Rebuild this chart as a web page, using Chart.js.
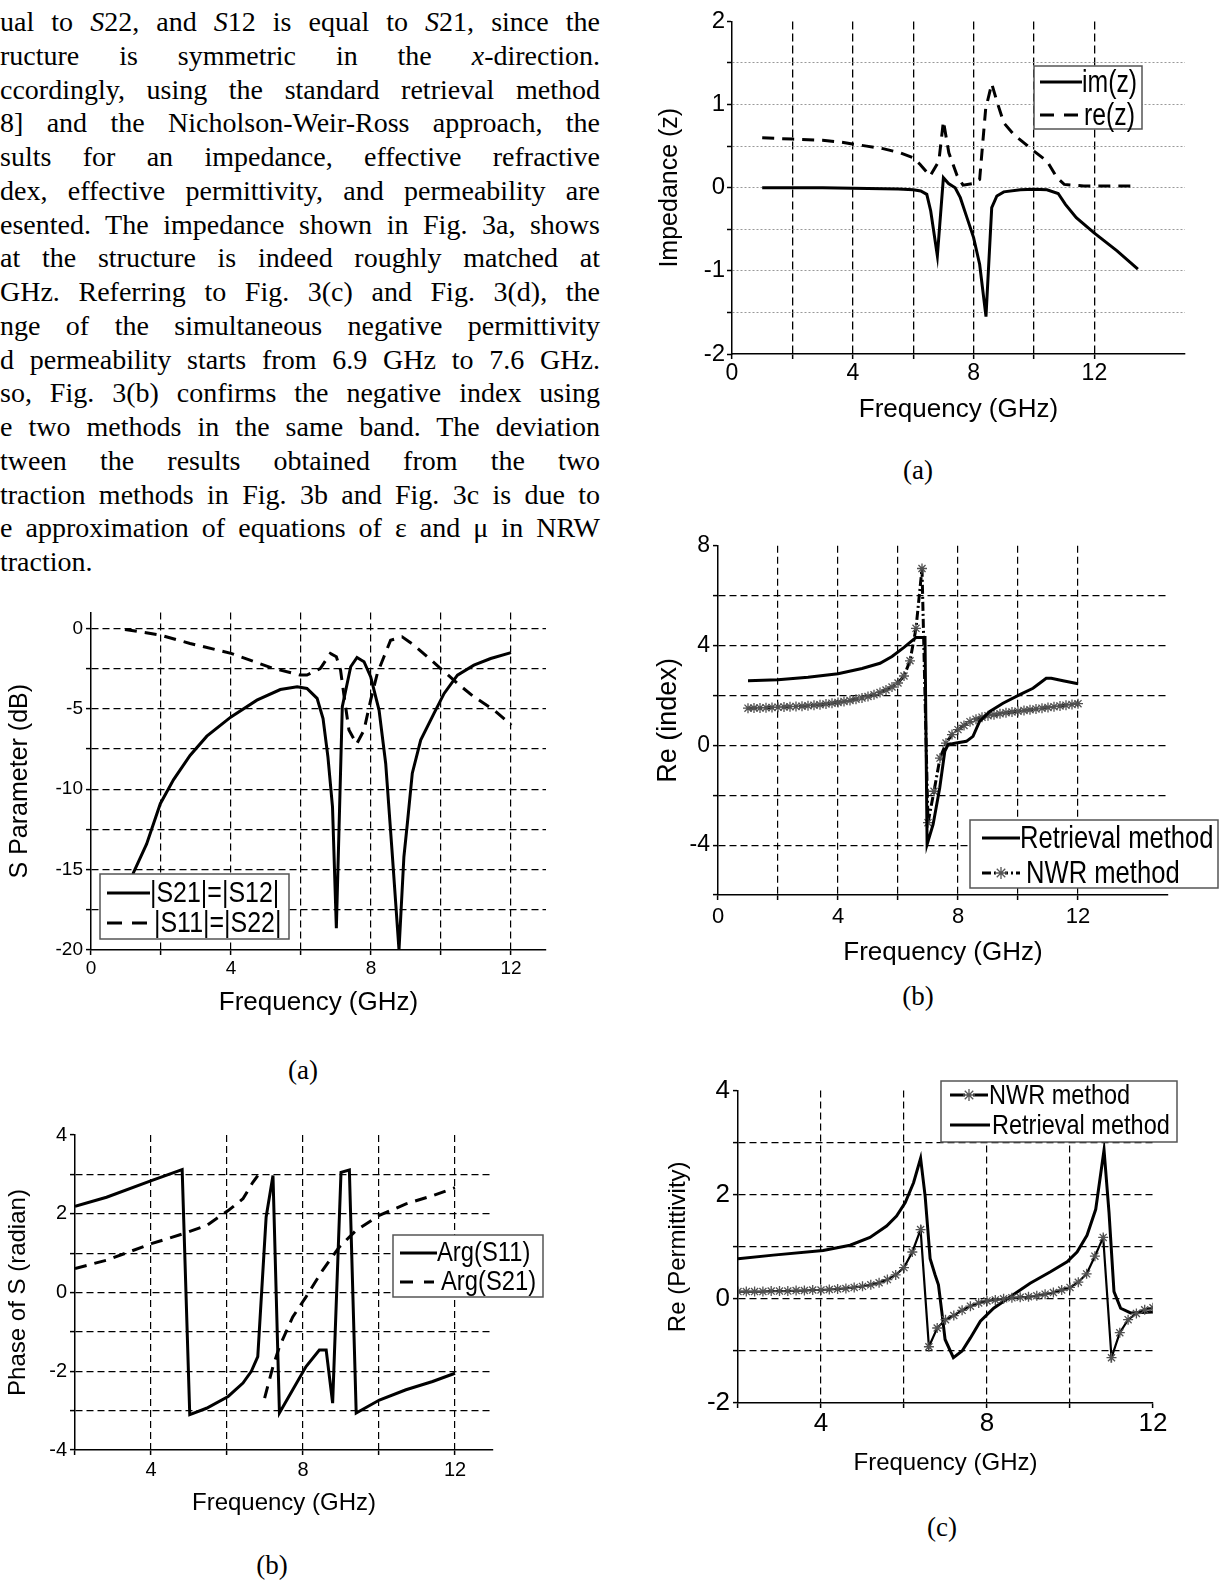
<!DOCTYPE html>
<html>
<head>
<meta charset="utf-8">
<title>Fig. 3 S-parameters and retrieved parameters</title>
<script src="https://cdn.jsdelivr.net/npm/chart.js@4.4.1/dist/chart.umd.min.js"></script>
<style>
  html, body { margin: 0; padding: 0; background: #fff; }
  body { position: relative; width: 1225px; height: 1585px; overflow: hidden; }
  canvas { position: absolute; }
  .line { position: absolute; left: 0; white-space: pre; font: 28px "Liberation Serif", "Times New Roman", serif; line-height: 34px; color: #000; }
  .cap { position: absolute; font: 27px "Liberation Serif", "Times New Roman", serif; color: #000; transform: translate(-50%, -50%); }
</style>
</head>
<body>
<script>
// ---- data ----

// S parameter (dB)
const sFreq21 = [1.0, 1.21, 1.59, 1.98, 2.36, 2.83, 3.31, 4.0, 4.74, 5.41, 5.89, 6.17, 6.46, 6.63, 6.77, 6.9, 7.01, 7.18, 7.42, 7.6, 7.8, 7.99, 8.23, 8.42, 8.6, 8.8, 8.94, 9.04, 9.18, 9.42, 9.8, 10.09, 10.47, 10.94, 11.42, 12.0];
const s21 = [-18.0, -15.2, -13.4, -10.9, -9.4, -7.9, -6.7, -5.5, -4.46, -3.8, -3.63, -3.73, -4.35, -5.6, -8.0, -11.1, -18.65, -4.87, -2.38, -1.8, -2.07, -3.0, -5.08, -8.4, -13.8, -20.0, -14.2, -12.1, -9.0, -6.94, -5.28, -4.04, -2.9, -2.28, -1.87, -1.5];
const sFreq11 = [0.97, 1.98, 2.83, 4.0, 5.22, 5.98, 6.17, 6.55, 6.84, 7.01, 7.13, 7.22, 7.37, 7.59, 7.8, 7.99, 8.18, 8.37, 8.56, 8.89, 9.23, 9.99, 10.47, 10.94, 11.52, 12.01];
const s11 = [-0.06, -0.41, -0.93, -1.55, -2.49, -2.9, -2.9, -2.49, -1.55, -1.76, -2.59, -4.04, -6.32, -7.19, -6.32, -4.46, -2.8, -1.76, -0.73, -0.52, -1.04, -2.49, -3.42, -4.25, -5.08, -6.01];

// phase (radian)
const phFreq11 = [2.0, 2.83, 4.01, 4.82, 5.02, 5.46, 6.03, 6.42, 6.64, 6.81, 7.03, 7.21, 7.38, 7.73, 8.08, 8.43, 8.61, 8.78, 9.0, 9.22, 9.4, 10.01, 10.71, 11.41, 12.0];
const argS11 = [2.19, 2.42, 2.84, 3.12, -3.1, -2.94, -2.64, -2.3, -2.0, -1.63, 1.92, 2.97, -3.06, -2.47, -1.88, -1.46, -1.46, -2.81, 3.05, 3.11, -3.06, -2.73, -2.47, -2.26, -2.05];
const phFreq21 = [2.0, 2.83, 4.01, 4.84, 5.46, 6.03, 6.42, 6.68, 6.81, 6.9, 6.99, 7.21, 7.38, 7.73, 8.08, 8.52, 8.96, 9.4, 10.01, 10.71, 11.41, 12.0];
const argS21 = [0.61, 0.82, 1.24, 1.49, 1.7, 2.08, 2.38, 2.8, 2.97, null, -2.68, -1.88, -1.38, -0.62, -0.11, 0.57, 1.16, 1.58, 1.96, 2.25, 2.46, 2.66];

// impedance
const zFreqIm = [1.0, 2.0, 3.0, 3.5, 4.5, 5.5, 6.0, 6.25, 6.45, 6.58, 6.8, 7.0, 7.17, 7.39, 7.56, 7.78, 8.0, 8.2, 8.41, 8.6, 8.77, 9.0, 9.55, 10.0, 10.43, 10.8, 11.04, 11.4, 11.98, 12.75, 13.44];
const imZ = [0, 0, 0, -0.005, -0.01, -0.015, -0.025, -0.04, -0.08, -0.28, -0.82, 0.12, 0.05, 0.0, -0.12, -0.36, -0.6, -0.92, -1.55, -0.24, -0.1, -0.05, -0.025, -0.02, -0.025, -0.07, -0.2, -0.36, -0.54, -0.76, -0.98];
const zFreqRe = [1.0, 2.0, 3.0, 3.57, 4.46, 5.0, 5.56, 6.0, 6.23, 6.56, 6.85, 7.0, 7.18, 7.45, 7.65, 8.0, 8.2, 8.4, 8.6, 8.77, 9.0, 9.33, 10.0, 10.43, 10.76, 11.0, 11.65, 13.27];
const reZ = [0.6, 0.585, 0.57, 0.55, 0.5, 0.47, 0.42, 0.36, 0.28, 0.14, 0.32, 0.8, 0.42, 0.15, 0.03, 0.05, 0.1, 0.95, 1.25, 1.04, 0.78, 0.64, 0.44, 0.32, 0.12, 0.04, 0.02, 0.02];

// refractive index
const nFreqRet = [1.0, 2.0, 3.0, 4.0, 4.8, 5.4, 5.8, 6.2, 6.5, 6.6, 6.9, 6.97, 7.17, 7.39, 7.56, 7.67, 7.94, 8.28, 8.5, 8.72, 9.06, 9.5, 10.06, 10.5, 10.72, 10.94, 11.11, 11.5, 12.0];
const nRet = [2.59, 2.63, 2.73, 2.87, 3.08, 3.29, 3.56, 3.93, 4.23, 4.32, 4.32, -3.97, -3.17, -1.71, -0.24, 0.03, 0.09, 0.16, 0.36, 0.96, 1.36, 1.69, 2.03, 2.29, 2.49, 2.69, 2.69, 2.59, 2.47];
const nFreqNwr = [1.0, 1.2, 1.4, 1.6, 1.8, 2.0, 2.2, 2.4, 2.6, 2.8, 3.0, 3.2, 3.4, 3.6, 3.8, 4.0, 4.2, 4.4, 4.6, 4.8, 5.0, 5.2, 5.4, 5.6, 5.8, 6.0, 6.2, 6.4, 6.6, 6.8, 7.0, 7.2, 7.4, 7.6, 7.8, 8.0, 8.2, 8.4, 8.6, 8.8, 9.0, 9.2, 9.4, 9.6, 9.8, 10.0, 10.2, 10.4, 10.6, 10.8, 11.0, 11.2, 11.4, 11.6, 11.8, 12.0];
const nNwr = [1.49, 1.5, 1.5, 1.51, 1.52, 1.53, 1.54, 1.55, 1.56, 1.57, 1.59, 1.61, 1.63, 1.66, 1.69, 1.72, 1.76, 1.8, 1.85, 1.9, 1.96, 2.03, 2.12, 2.22, 2.34, 2.5, 2.78, 3.39, 4.69, 7.09, -3.1, -1.84, -0.51, 0.09, 0.43, 0.63, 0.8, 0.95, 1.05, 1.13, 1.19, 1.23, 1.27, 1.31, 1.34, 1.37, 1.4, 1.43, 1.46, 1.49, 1.52, 1.55, 1.58, 1.61, 1.64, 1.67];

// permittivity
const eFreqRet = [2.0, 2.85, 4.05, 4.7, 5.18, 5.58, 5.82, 6.03, 6.23, 6.4, 6.51, 6.63, 6.75, 6.83, 6.91, 6.99, 7.19, 7.4, 7.6, 7.84, 8.16, 8.56, 9.04, 9.53, 9.93, 10.17, 10.41, 10.62, 10.82, 10.94, 11.06, 11.22, 11.46, 12.0];
const eRet = [0.77, 0.84, 0.93, 1.03, 1.18, 1.4, 1.59, 1.85, 2.23, 2.7, 1.97, 0.77, 0.46, 0.27, -0.24, -0.78, -1.13, -1.0, -0.75, -0.43, -0.18, 0.04, 0.3, 0.52, 0.71, 0.9, 1.22, 1.72, 2.86, 1.66, 0.14, -0.18, -0.27, -0.25];
const eFreqNwr = [2.0, 2.2, 2.4, 2.6, 2.8, 3.0, 3.2, 3.4, 3.6, 3.8, 4.0, 4.2, 4.4, 4.6, 4.8, 5.0, 5.2, 5.4, 5.6, 5.8, 6.0, 6.2, 6.4, 6.6, 6.8, 7.0, 7.2, 7.4, 7.6, 7.8, 8.0, 8.2, 8.4, 8.6, 8.8, 9.0, 9.2, 9.4, 9.6, 9.8, 10.0, 10.2, 10.4, 10.6, 10.8, 11.0, 11.2, 11.4, 11.6, 11.8, 12.0];
const eNwr = [0.14, 0.14, 0.14, 0.14, 0.15, 0.15, 0.15, 0.16, 0.16, 0.17, 0.17, 0.18, 0.19, 0.2, 0.22, 0.24, 0.27, 0.31, 0.37, 0.46, 0.6, 0.9, 1.33, -0.92, -0.56, -0.4, -0.32, -0.22, -0.14, -0.08, -0.04, -0.02, 0.0, 0.02, 0.03, 0.04, 0.06, 0.09, 0.12, 0.17, 0.22, 0.32, 0.48, 0.82, 1.18, -1.13, -0.65, -0.4, -0.28, -0.21, -0.17];

// ---- text column ----
const textLines = [
  'ual to <i>S</i>22, and <i>S</i>12 is equal to <i>S</i>21, since the',
  'ructure is symmetric in the <i>x</i>-direction.',
  'ccordingly, using the standard retrieval method',
  '8] and the Nicholson-Weir-Ross approach, the',
  'sults for an impedance, effective refractive',
  'dex, effective permittivity, and permeability are',
  'esented. The impedance shown in Fig. 3a, shows',
  'at the structure is indeed roughly matched at',
  'GHz. Referring to Fig. 3(c) and Fig. 3(d), the',
  'nge of the simultaneous negative permittivity',
  'd permeability starts from 6.9 GHz to 7.6 GHz.',
  'so, Fig. 3(b) confirms the negative index using',
  'e two methods in the same band. The deviation',
  'tween the results obtained from the two',
  'traction methods in Fig. 3b and Fig. 3c is due to',
  'e approximation of equations of ε and μ in NRW',
  'traction.'
];
const colWidth = 600;

textLines.forEach((html, i) => {
  const d = document.createElement('div');
  d.className = 'line';
  d.innerHTML = html;
  d.style.top = (22 + 33.75 * i - 17) + 'px';
  document.body.appendChild(d);
  if (i < textLines.length - 1) {
    const spaces = (d.textContent.match(/ /g) || []).length;
    const w = d.getBoundingClientRect().width;
    d.style.wordSpacing = ((colWidth - w) / spaces) + 'px';
  }
});

// captions
[['(a)', 918, 470], ['(b)', 918, 996], ['(c)', 942, 1527], ['(a)', 303, 1070], ['(b)', 272, 1565]].forEach(c => {
  const d = document.createElement('div');
  d.className = 'cap';
  d.textContent = c[0];
  d.style.left = c[1] + 'px';
  d.style.top = c[2] + 'px';
  document.body.appendChild(d);
});

// ---- charts ----
Chart.defaults.font.family = '"Liberation Sans", Arial, Helvetica, sans-serif';
Chart.defaults.color = '#000';

function pts(xs, ys) { return xs.map((x, i) => ({x: x, y: ys[i]})); }

function axis(o) {
  const near = (v, s) => Math.abs(v / s - Math.round(v / s)) < 1e-6;
  return {
    type: 'linear', min: o.min, max: o.max,
    afterBuildTicks: s => { s.ticks = s.ticks.filter(t => near(t.value, o.step)); },
    afterFit: s => {
      if (o.width !== undefined) s.width = o.width;
      if (o.height !== undefined) s.height = o.height;
    },
    ticks: {
      stepSize: o.step, autoSkip: false, maxRotation: 0, minRotation: 0, padding: o.pad,
      font: {size: o.tick}, color: '#000',
      callback: v => near(v, o.label) ? String(Math.round(v * 1000) / 1000) : ''
    },
    grid: {
      color: c => (c.tick && (c.tick.value === o.min || c.tick.value === o.max)) ? 'rgba(0,0,0,0)' : o.gridColor,
      lineWidth: o.gridWidth, drawTicks: true, tickLength: 5, tickWidth: 1.5, tickColor: '#000',
      borderDash: o.dash
    },
    border: {display: true, color: '#000', width: 1.5, dash: o.dash},
    title: {display: true, text: o.title, color: '#000', font: {size: o.titleSize}, padding: o.titlePad}
  };
}

// boxed legend drawn inside the plot, like the original figure
function boxLegend(lg, box) {
  return {
    id: 'boxLegend',
    afterDraw(chart) {
      const ctx = chart.ctx;
      const ox = box.x, oy = box.y;
      const b = lg.box;
      ctx.save();
      ctx.fillStyle = '#fff';
      ctx.fillRect(b[0] - ox, b[1] - oy, b[2] - b[0], b[3] - b[1]);
      ctx.strokeStyle = '#555';
      ctx.lineWidth = 1.5;
      ctx.strokeRect(b[0] - ox, b[1] - oy, b[2] - b[0], b[3] - b[1]);
      lg.rows.forEach(r => {
        const y = r.y - oy;
        ctx.strokeStyle = '#000';
        ctx.lineWidth = 3;
        ctx.setLineDash(r.dash || []);
        ctx.beginPath();
        ctx.moveTo(r.s[0] - ox, y);
        ctx.lineTo(r.s[1] - ox, y);
        ctx.stroke();
        ctx.setLineDash([]);
        if (r.star) {
          const cx = (r.s[0] + r.s[1]) / 2 - ox, rad = 6;
          ctx.fillStyle = '#fff';
          ctx.fillRect(cx - 4, y - 4, 8, 8);
          ctx.strokeStyle = '#555';
          ctx.lineWidth = 1.3;
          ctx.beginPath();
          for (let k = 0; k < 4; k++) {
            const a = k * Math.PI / 4;
            ctx.moveTo(cx - rad * Math.cos(a), y - rad * Math.sin(a));
            ctx.lineTo(cx + rad * Math.cos(a), y + rad * Math.sin(a));
          }
          ctx.stroke();
        }
        ctx.save();
        ctx.translate(r.tx - ox, y + 1);
        ctx.scale(lg.cond, 1);
        ctx.font = lg.size + 'px "Liberation Sans", Arial, sans-serif';
        ctx.textBaseline = 'middle';
        ctx.fillStyle = '#000';
        ctx.fillText(r.text, 0, 0);
        ctx.restore();
      });
      ctx.restore();
    }
  };
}

function makeChart(box, area, xo, yo, datasets, legend) {
  const cv = document.createElement('canvas');
  cv.width = box.w;
  cv.height = box.h;
  cv.style.left = box.x + 'px';
  cv.style.top = box.y + 'px';
  document.body.appendChild(cv);
  xo.height = box.y + box.h - area.B;
  yo.width = area.L - box.x;
  return new Chart(cv, {
    type: 'scatter',
    data: {datasets: datasets},
    options: {
      responsive: false, animation: false, devicePixelRatio: 1,
      layout: {padding: {left: 0, bottom: 0, top: area.T - box.y, right: box.x + box.w - area.R}},
      plugins: {legend: {display: false}, tooltip: {enabled: false}},
      scales: {x: axis(xo), y: axis(yo)}
    },
    plugins: [boxLegend(legend, box)]
  });
}

const solid = (data) => ({data: data, showLine: true, borderColor: '#000', borderWidth: 3, pointRadius: 0, fill: false});
const dashed = (data, dash) => Object.assign(solid(data), {borderDash: dash});
const starred = (data, dash, width) => Object.assign(solid(data), {
  borderDash: dash, borderWidth: width, pointStyle: 'star', pointRadius: 5,
  pointBorderColor: '#505050', pointBorderWidth: 1.3, pointBackgroundColor: 'rgba(0,0,0,0)'
});

const black = {gridColor: '#000', gridWidth: 1.2, dash: [7, 4]};

// (a) left: S parameters
makeChart({x: 2, y: 598, w: 564, h: 425}, {L: 91, T: 612, R: 546, B: 950},
  Object.assign({min: 0, max: 13, step: 2, label: 4, tick: 19, pad: 2, title: 'Frequency (GHz)', titleSize: 26, titlePad: {top: 0, bottom: 4.4}}, black),
  Object.assign({min: -20, max: 1, step: 2.5, label: 5, tick: 19, pad: 3, title: 'S Parameter (dB)', titleSize: 25, titlePad: {top: 3, bottom: 0}}, black),
  [solid(pts(sFreq21, s21)), dashed(pts(sFreq11, s11), [12, 8])],
  {box: [100, 874, 289, 939], size: 29, cond: 0.86, rows: [
    {text: '|S21|=|S12|', y: 893, s: [107, 150], tx: 150},
    {text: '|S11|=|S22|', y: 923, s: [107, 147], tx: 154, dash: [15, 10]}
  ]});

// (b) left: phase
makeChart({x: 0, y: 1120, w: 550, h: 402}, {L: 75, T: 1134, R: 493, B: 1450},
  Object.assign({min: 2, max: 13, step: 2, label: 4, tick: 20, pad: 3, title: 'Frequency (GHz)', titleSize: 24, titlePad: {top: 0, bottom: 4.6}}, black),
  Object.assign({min: -4, max: 4, step: 1, label: 2, tick: 20, pad: 3, title: 'Phase of S (radian)', titleSize: 24, titlePad: {top: 3.6, bottom: 0}}, black),
  [solid(pts(phFreq11, argS11)), dashed(pts(phFreq21, argS21), [12, 8])],
  {box: [393, 1235, 543, 1297], size: 27, cond: 0.88, rows: [
    {text: 'Arg(S11)', y: 1253, s: [400, 437], tx: 437},
    {text: 'Arg(S21)', y: 1282, s: [400, 434], tx: 441, dash: [13, 11]}
  ]});

// (a) right: impedance
makeChart({x: 650, y: 5, w: 555, h: 425}, {L: 732, T: 19, R: 1185, B: 354},
  Object.assign({min: 0, max: 15, step: 2, label: 4, tick: 23, pad: 1, title: 'Frequency (GHz)', titleSize: 26, titlePad: {top: 0, bottom: 4.4}}, {gridColor: '#000', gridWidth: 1.3, dash: [8, 4]}),
  {min: -2, max: 2, step: 0.5, label: 1, tick: 24, pad: 2, title: 'Impedance (z)', titleSize: 25, titlePad: {top: 5, bottom: 0}, gridColor: '#999', gridWidth: 1, dash: [2, 2]},
  [solid(pts(zFreqIm, imZ)), dashed(pts(zFreqRe, reZ), [12, 8])],
  {box: [1034, 66, 1142, 129], size: 31, cond: 0.8, rows: [
    {text: 'im(z)', y: 82, s: [1040, 1082], tx: 1082},
    {text: 're(z)', y: 115, s: [1040, 1078], tx: 1084, dash: [14, 10]}
  ]});

// (b) right: refractive index
makeChart({x: 648, y: 529, w: 574, h: 444}, {L: 718, T: 543, R: 1168, B: 895},
  Object.assign({min: 0, max: 15, step: 2, label: 4, tick: 22, pad: 4, title: 'Frequency (GHz)', titleSize: 26, titlePad: {top: 0, bottom: 4.4}}, black),
  Object.assign({min: -6, max: 8, step: 2, label: 4, tick: 23, pad: 3, title: 'Re (index)', titleSize: 27, titlePad: {top: 4.8, bottom: 0}}, black),
  [solid(pts(nFreqRet, nRet)), starred(pts(nFreqNwr, nNwr), [9, 3, 2, 3], 3)],
  {box: [970, 820, 1218, 888], size: 32, cond: 0.8, rows: [
    {text: 'Retrieval method', y: 838, s: [982, 1020], tx: 1020},
    {text: 'NWR method', y: 873, s: [982, 1020], tx: 1026, dash: [9, 3, 2, 3], star: true}
  ]});

// (c) right: permittivity
makeChart({x: 660, y: 1072, w: 523, h: 410}, {L: 738, T: 1086, R: 1153, B: 1403},
  Object.assign({min: 2, max: 12, step: 2, label: 4, tick: 26, pad: 0, title: 'Frequency (GHz)', titleSize: 24, titlePad: {top: 0, bottom: 4.6}}, black),
  Object.assign({min: -2, max: 4, step: 1, label: 2, tick: 26, pad: 3, title: 'Re (Permittivity)', titleSize: 24, titlePad: {top: 3.6, bottom: 0}}, black),
  [starred(pts(eFreqNwr, eNwr), [], 2.2), solid(pts(eFreqRet, eRet))],
  {box: [941, 1081, 1177, 1142], size: 28, cond: 0.84, rows: [
    {text: 'NWR method', y: 1095, s: [950, 988], tx: 989, star: true},
    {text: 'Retrieval method', y: 1125, s: [950, 990], tx: 992}
  ]});
</script>
</body>
</html>
